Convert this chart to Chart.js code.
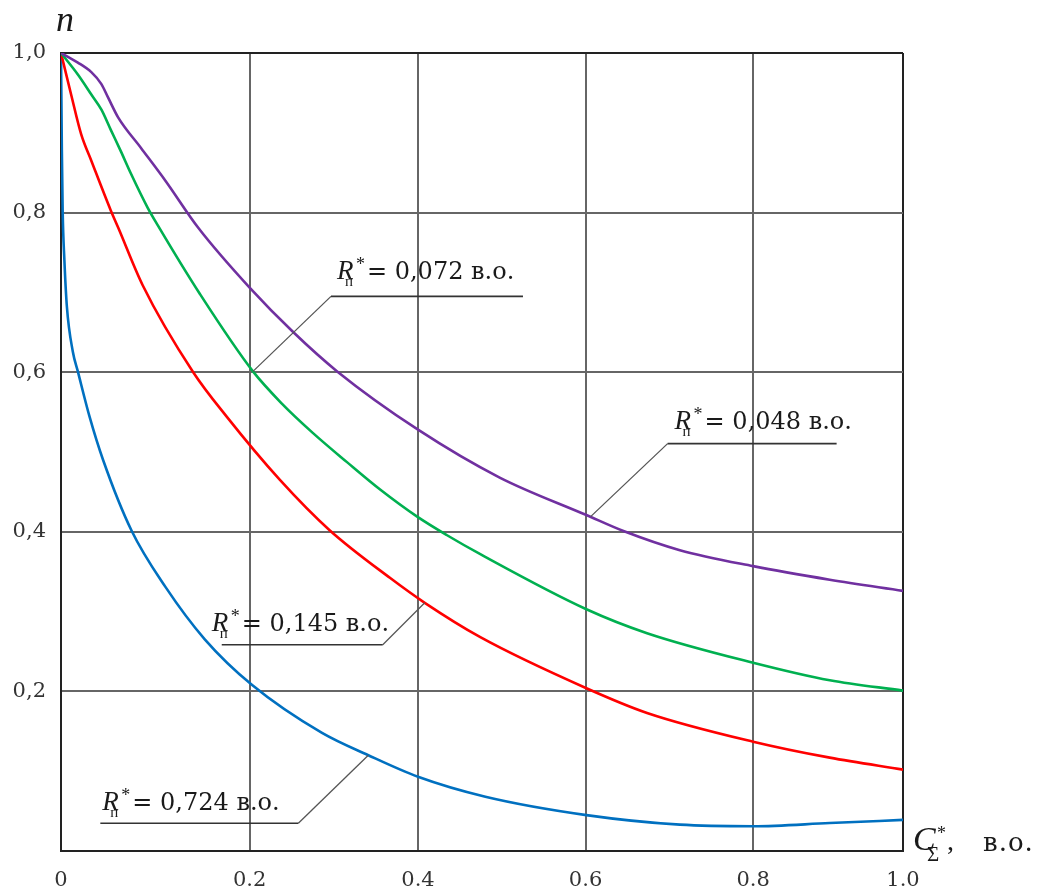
<!DOCTYPE html>
<html>
<head>
<meta charset="utf-8">
<script src="https://cdn.jsdelivr.net/npm/chart.js@4"></script>
<style>
    body { margin: 0; background: #fff; }
    #wrap { width: 1044px; height: 890px; position: relative; }
</style>
</head>
<body>
<div id="wrap"><canvas id="myChart"></canvas></div>
<script>
    // R*п of each curve and its colour
    const seriesLabels = ['0,048', '0,072', '0,145', '0,724']
    const seriesColors = ['#7030a0', '#00b050', '#ff0000', '#0070c0']

    // C*Σ (x) and n (y), one pair per curve
    const c048 = [0, 0.020, 0.036, 0.048, 0.056, 0.068, 0.095, 0.124, 0.163, 0.224, 0.276, 0.328, 0.424, 0.521, 0.624, 0.668, 0.735, 0.822, 0.913, 1.0]
    const n048 = [1.0, 0.988, 0.976, 0.961, 0.944, 0.919, 0.881, 0.840, 0.781, 0.706, 0.650, 0.601, 0.528, 0.468, 0.421, 0.401, 0.377, 0.357, 0.340, 0.326]

    const c072 = [0, 0.020, 0.036, 0.048, 0.059, 0.071, 0.083, 0.103, 0.115, 0.165, 0.228, 0.262, 0.299, 0.340, 0.379, 0.423, 0.458, 0.498, 0.624, 0.696, 0.822, 0.913, 1.0]
    const n072 = [1.0, 0.973, 0.948, 0.929, 0.904, 0.877, 0.849, 0.806, 0.784, 0.698, 0.601, 0.561, 0.524, 0.487, 0.453, 0.419, 0.396, 0.372, 0.303, 0.273, 0.236, 0.214, 0.201]

    const c145 = [0, 0.012, 0.024, 0.036, 0.059, 0.068, 0.097, 0.157, 0.197, 0.260, 0.319, 0.391, 0.432, 0.498, 0.624, 0.696, 0.822, 0.913, 1.0]
    const n145 = [1.0, 0.948, 0.898, 0.865, 0.803, 0.781, 0.709, 0.600, 0.544, 0.465, 0.402, 0.342, 0.311, 0.268, 0.204, 0.173, 0.137, 0.117, 0.102]

    const c724 = [0, 0.001, 0.002, 0.004, 0.007, 0.014, 0.020, 0.034, 0.050, 0.084, 0.124, 0.171, 0.227, 0.310, 0.365, 0.424, 0.504, 0.624, 0.735, 0.822, 0.913, 1.0]
    const n724 = [1.0, 0.879, 0.801, 0.741, 0.682, 0.626, 0.601, 0.544, 0.490, 0.401, 0.331, 0.265, 0.208, 0.148, 0.120, 0.093, 0.068, 0.045, 0.033, 0.031, 0.035, 0.039]

    // the source drawing's grid is not evenly spaced against its frame,
    // so the vertical grid lines sit where they are in the picture
    const xTickAt = [0, 0.224, 0.424, 0.623, 0.822, 1]
    const xTickLabels = ['0', '0.2', '0.4', '0.6', '0.8', '1.0']
    const yTickAt = [0.2, 0.4, 0.6, 0.8, 1.0]
    const yTickLabels = ['0,2', '0,4', '0,6', '0,8', '1,0']

    // callouts: which curve, point on it, elbow offset, underline length, text offset (px)
    const callouts = [
        { series: 1, at: [0.228, 0.601], elbow: [78, -75], line: 192, text: [6, -17] },
        { series: 0, at: [0.629, 0.419], elbow: [77, -73], line: 169, text: [7, -15] },
        { series: 2, at: [0.432, 0.311], elbow: [-42, 42], line: -161, text: [-171, -14] },
        { series: 3, at: [0.365, 0.120], elbow: [-70, 68], line: -198, text: [-196, -13] },
    ]

    const series = [[c048, n048], [c072, n072], [c145, n145], [c724, n724]]
    const toPoints = (xs, ys) => xs.map((x, i) => ({ x: x, y: ys[i] }))

    const drawRLabel = (ctx, x, y, value) => {
        ctx.fillStyle = '#1a1a1a'
        ctx.textAlign = 'left'
        ctx.textBaseline = 'alphabetic'
        ctx.font = 'italic 27px "Liberation Serif"'
        ctx.fillText('R', x, y)
        ctx.font = '18px "Liberation Serif"'
        ctx.fillText('*', x + 19, y - 9)
        ctx.font = '15px "Liberation Serif"'
        ctx.fillText('п', x + 8, y + 7)
        ctx.font = '24px "DejaVu Serif"'
        ctx.fillText('= ' + value + ' в.о.', x + 30, y)
    }

    const annotations = {
        id: 'annotations',
        afterDatasetsDraw(chart) {
            const { ctx, scales: { x, y } } = chart
            ctx.save()
            callouts.forEach(c => {
                const ax = x.getPixelForValue(c.at[0])
                const ay = y.getPixelForValue(c.at[1])
                const ex = ax + c.elbow[0]
                const ey = ay + c.elbow[1]
                ctx.strokeStyle = '#555'
                ctx.lineWidth = 1.3
                ctx.beginPath()
                ctx.moveTo(ax, ay)
                ctx.lineTo(ex, ey)
                ctx.stroke()
                ctx.strokeStyle = '#333'
                ctx.lineWidth = 1.6
                ctx.beginPath()
                ctx.moveTo(ex, ey)
                ctx.lineTo(ex + c.line, ey)
                ctx.stroke()
                drawRLabel(ctx, ex + c.text[0], ey + c.text[1], seriesLabels[c.series])
            })

            // axis names
            ctx.fillStyle = '#1a1a1a'
            ctx.textAlign = 'left'
            ctx.textBaseline = 'alphabetic'
            ctx.font = 'italic 36px "Liberation Serif"'
            ctx.fillText('n', 56, 31)

            const bx = x.right + 10
            const by = y.bottom - 1
            ctx.font = 'italic 34px "Liberation Serif"'
            ctx.fillText('C', bx, by)
            ctx.font = '18px "Liberation Serif"'
            ctx.fillText('*', bx + 24, by - 11)
            ctx.font = '21px "Liberation Serif"'
            ctx.fillText('Σ', bx + 14, by + 11)
            ctx.font = '28px "Liberation Serif"'
            ctx.fillText(',', bx + 34, by)
            ctx.font = '26px "DejaVu Serif"'
            ctx.letterSpacing = '1px'
            ctx.fillText('в.о.', bx + 70, by + 1)
            ctx.restore()
        }
    }

    const gridColor = edge => edge ? '#222' : '#666'
    const tickFont = { family: 'DejaVu Serif', size: 21 }

    const ctx = document.getElementById('myChart').getContext('2d')
    const chart = new Chart(ctx, {
        type: 'line',
        data: {
            datasets: series.map(([xs, ys], i) => ({
                label: 'R*п = ' + seriesLabels[i] + ' в.о.',
                data: toPoints(xs, ys),
                borderColor: seriesColors[i],
                borderWidth: 2.6,
                pointRadius: 0,
                cubicInterpolationMode: 'monotone',
                fill: false
            }))
        },
        options: {
            responsive: true,
            maintainAspectRatio: false,
            animation: false,
            layout: { padding: { top: 53, right: 141, left: 0, bottom: 0 } },
            plugins: {
                legend: { display: false },
                tooltip: { enabled: false }
            },
            scales: {
                x: {
                    type: 'linear',
                    min: 0,
                    max: 1,
                    afterBuildTicks: s => { s.ticks = xTickAt.map(v => ({ value: v })) },
                    afterFit: s => { s.height = 39 },
                    ticks: {
                        callback: (v, i) => xTickLabels[i],
                        font: tickFont,
                        color: '#333',
                        padding: 17,
                        autoSkip: false,
                        maxRotation: 0
                    },
                    grid: {
                        color: c => gridColor(c.tick && c.tick.value === 1),
                        lineWidth: 2,
                        drawTicks: false
                    },
                    border: { color: '#222', width: 2 }
                },
                y: {
                    type: 'linear',
                    min: 0,
                    max: 1,
                    afterBuildTicks: s => { s.ticks = yTickAt.map(v => ({ value: v })) },
                    afterFit: s => { s.width = 61 },
                    ticks: {
                        callback: (v, i) => yTickLabels[i],
                        font: tickFont,
                        color: '#333',
                        padding: 15,
                        autoSkip: false
                    },
                    grid: {
                        color: c => gridColor(c.tick && c.tick.value === 1),
                        lineWidth: 2,
                        drawTicks: false
                    },
                    border: { color: '#222', width: 2 }
                }
            }
        },
        plugins: [annotations]
    })
</script>
</body>
</html>
